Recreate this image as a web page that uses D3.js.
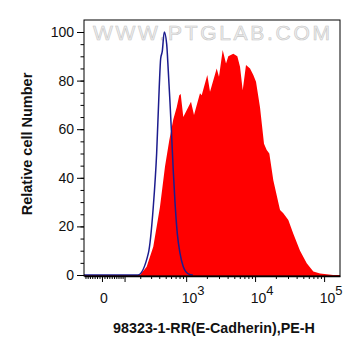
<!DOCTYPE html>
<html>
<head>
<meta charset="utf-8">
<script src="https://cdn.jsdelivr.net/npm/d3@7"></script>
<style>
  body { margin: 0; background: #fff; }
  svg { display: block; }
</style>
</head>
<body>
<div id="chart"></div>
<script>
// isotype control (blue line): fluorescence intensity vs relative count
const isoX = [-77, 182, 271, 324, 365, 400, 420, 444, 476, 517, 546, 579, 613, 647, 686, 742, 812, 908, 1075, 1250];
const isoY = [0, 0, 8.9, 28, 50, 77.5, 89, 92, 100, 95, 84, 71, 57, 43, 30, 17, 9, 3.4, 0.5, 0];

// E-Cadherin stained sample (red fill)
const abX = [-77, 198, 255, 324, 410, 488, 565, 647, 727, 793, 832, 908, 1176, 1301, 1590, 1683, 2029, 2222, 2778, 3000,
  3394, 3792, 4095, 4834, 5529, 6050, 6619, 7387, 8446, 9430, 10315, 11785, 13470, 14740, 16085, 18370, 22980, 25660,
  30310, 35820, 44810, 56020, 69820, 87360, 109000, 135000, 170000];
const abY = [0, 0, 3.4, 11.6, 28, 44.6, 55.5, 64, 69, 74, 74.5, 65, 71.3, 65.8, 74.8, 74, 82.3, 75.4, 85, 81.6,
  92.6, 87, 90, 91, 90, 85.7, 76, 86.4, 85, 82.3, 79.5, 69, 54, 51.4, 50, 39, 26.7, 25.4,
  22.6, 17, 10, 4.8, 1.4, 0.6, 0.3, 0, 0];

const yTicks = [0, 20, 40, 60, 80, 100];
const xLabelTicks = [0, 1e3, 1e4, 1e5];
const xDomain = [-77, 170000];

const xTitle = "98323-1-RR(E-Cadherin),PE-H";
const yTitle = "Relative cell Number";
const watermark = "WWW.PTGLAB.COM";

// layout
const width = 361, height = 356;
const plotLeft = 84, plotRight = 340, plotTop = 20, plotBottom = 276;
const font = "'Liberation Sans', Arial, sans-serif";

// biexponential-like x transform (asinh)
const C = 121;
const tr = v => Math.asinh(v / C);
const xt = d3.scaleLinear().domain(xDomain.map(tr)).range([plotLeft, plotRight]);
const x = v => xt(tr(v));

const y = d3.scaleLinear().domain([0, 100]).range([275, 32]);

// minor tick values for the x axis
let xMinor = [];
for (let m = -7; m <= 9; m++) if (m !== 0) xMinor.push(m * 10);
[100, 1000, 10000].forEach(dec => {
  for (let m = 2; m <= 9; m++) xMinor.push(m * dec);
});
const xMajor = [0, 100, 1e3, 1e4, 1e5];

const svg = d3.select("#chart").append("svg")
  .attr("width", width)
  .attr("height", height);

// watermark
svg.append("text")
  .attr("x", 93)
  .attr("y", 40)
  .style("font-family", font)
  .style("font-size", "21px")
  .style("letter-spacing", "2.7px")
  .attr("fill", "#eeeeee")
  .attr("stroke", "#c6c6c6")
  .attr("stroke-width", 0.6)
  .text(watermark);

svg.append("clipPath").attr("id", "plotClip")
  .append("rect")
  .attr("x", plotLeft).attr("y", plotTop)
  .attr("width", plotRight - plotLeft).attr("height", plotBottom - plotTop);

const plot = svg.append("g").attr("clip-path", "url(#plotClip)");

const ab = abX.map((v, i) => [v, abY[i]]);
const iso = isoX.map((v, i) => [v, isoY[i]]);

plot.append("path")
  .datum(ab)
  .attr("fill", "#ff0000")
  .attr("stroke", "none")
  .attr("d", d3.area()
    .x(d => x(d[0]))
    .y0(plotBottom)
    .y1(d => y(d[1])));

plot.append("path")
  .datum(iso)
  .attr("fill", "none")
  .attr("stroke", "#1c1c8e")
  .attr("stroke-width", 1.5)
  .attr("d", d3.line()
    .curve(d3.curveMonotoneX)
    .x(d => x(d[0]))
    .y(d => y(d[1])));

// frame
svg.append("rect")
  .attr("x", plotLeft).attr("y", plotTop)
  .attr("width", plotRight - plotLeft).attr("height", plotBottom - plotTop)
  .attr("fill", "none")
  .attr("stroke", "#000")
  .attr("stroke-width", 1);

// x axis (minor + major ticks)
svg.append("g")
  .attr("transform", "translate(0," + plotBottom + ")")
  .call(d3.axisBottom(xt).tickValues(xMinor.map(tr)).tickSize(3).tickSizeOuter(0).tickFormat(""))
  .call(g => g.select(".domain").remove());

svg.append("g")
  .attr("transform", "translate(0," + plotBottom + ")")
  .call(d3.axisBottom(xt).tickValues(xMajor.map(tr)).tickSize(6).tickSizeOuter(0).tickFormat(""))
  .call(g => g.select(".domain").attr("stroke-width", 1.5));

const xLab = svg.append("g")
  .style("font-family", font)
  .style("font-size", "14px")
  .attr("fill", "#111");

xLabelTicks.forEach(v => {
  let t = xLab.append("text")
    .attr("x", x(v) + (v === 0 ? 2 : 7))
    .attr("y", 303)
    .attr("text-anchor", "middle");
  if (v === 0) {
    t.text("0");
  } else {
    t.append("tspan").text("10");
    t.append("tspan").attr("dy", -8).style("font-size", "13px").text(Math.round(Math.log10(v)));
  }
});

// y axis
svg.append("g")
  .attr("transform", "translate(" + plotLeft + ",0)")
  .call(d3.axisLeft(y).tickValues(d3.range(0, 101, 5)).tickSize(3.5).tickSizeOuter(0).tickFormat(""))
  .call(g => g.select(".domain").remove());

svg.append("g")
  .attr("transform", "translate(" + plotLeft + ",0)")
  .call(d3.axisLeft(y).tickValues(yTicks).tickSize(7).tickSizeOuter(0).tickPadding(3))
  .call(g => g.select(".domain").remove())
  .call(g => g.selectAll("text")
    .style("font-family", font)
    .style("font-size", "14px")
    .attr("fill", "#111"));

// titles
svg.append("text")
  .attr("x", 214)
  .attr("y", 333)
  .attr("text-anchor", "middle")
  .style("font-family", font)
  .style("font-size", "14.3px")
  .style("font-weight", "bold")
  .attr("fill", "#111")
  .text(xTitle);

svg.append("text")
  .attr("transform", "translate(32,144) rotate(-90)")
  .attr("text-anchor", "middle")
  .style("font-family", font)
  .style("font-size", "14.5px")
  .style("font-weight", "bold")
  .attr("fill", "#111")
  .text(yTitle);
</script>
</body>
</html>
